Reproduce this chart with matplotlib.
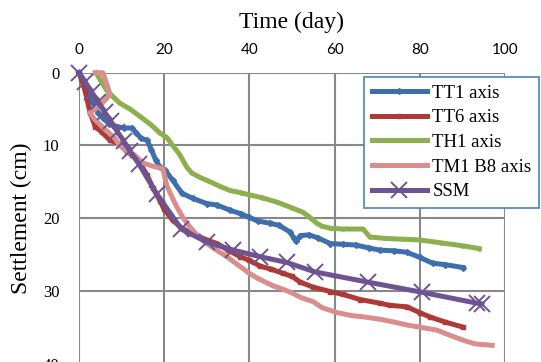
import matplotlib
matplotlib.use('Agg')
import matplotlib.pyplot as plt

# settlement records (day, cm)
tt1_day = [0, 1, 2, 3.3, 4.5, 5.6, 7, 8.9, 10.5, 12.4, 13.5, 14.5, 16, 17, 18, 19, 20.2, 22, 24.2,
           26.8, 30, 32.4, 35.4, 38, 40, 42, 44.8, 47, 49.5, 50.5, 51, 52, 54, 56, 59, 62, 65, 68,
           70.6, 74, 77, 80, 83, 86, 90.2]
tt1_cm = [0, 1, 2.5, 4.2, 5.5, 6.2, 7, 7.4, 7.6, 7.6, 8.3, 9, 9.3, 10.6, 12, 13, 13.4, 14.8, 16.6,
          17.3, 18, 18.2, 18.9, 19.4, 19.9, 20.4, 20.7, 21, 21.9, 22.8, 23.2, 22.4, 22.3, 22.7, 23.5,
          23.6, 23.7, 24.1, 24.4, 24.5, 24.7, 25.4, 26.2, 26.4, 26.8]

tt6_day = [0, 0.5, 1.4, 2.6, 3.8, 5.4, 7.3, 9.6, 11.3, 12.5, 14.3, 16, 17.4, 19, 20, 22, 24, 26, 28,
           30, 32.4, 35, 37.8, 40, 42.5, 45, 47.9, 50, 51.9, 55, 59, 62, 66, 70.6, 73, 77, 80, 82.4,
           86, 90.2]
tt6_cm = [0, 0.8, 2.4, 5.5, 7.4, 8.2, 9.3, 9.8, 10.9, 11.3, 12.4, 14.1, 15.9, 17.6, 18.8, 20.3, 21.3,
          22, 22.5, 23, 23.5, 24.4, 25.3, 25.8, 26.6, 27, 27.6, 28, 28.8, 29.5, 30.1, 30.5, 31.2, 31.7,
          32, 32.2, 33, 33.6, 34.3, 35]

th1_day = [4, 5, 6.5, 8, 9.6, 12, 14.3, 17, 19, 20.6, 22, 23.7, 25.3, 26.5, 28.4, 30, 33, 35.4, 38,
           40, 43, 46.5, 50, 52.6, 54, 55.8, 57, 59, 62, 66.7, 68.3, 72, 76, 80, 85, 90, 94]
th1_cm = [0, 1, 2.4, 3.3, 4.2, 5, 6, 7.2, 8.3, 8.9, 10, 11.3, 13, 13.8, 14.4, 14.8, 15.6, 16.2, 16.5,
          16.8, 17.2, 17.8, 18.6, 19.2, 19.8, 20.7, 21.1, 21.4, 21.5, 21.5, 22.6, 22.8, 22.9, 23,
          23.4, 23.8, 24.2]

tm1_day = [3.8, 5.6, 6.6, 7.3, 5, 2.5, 3.8, 6.5, 8.4, 9.5, 11.3, 13, 15, 17, 19.7, 20.6, 22, 23, 24.4,
           26, 28, 30, 32, 34.7, 37, 40, 42, 45.5, 48, 50, 52, 55, 57, 60.6, 64, 67, 70.6, 74, 77, 80,
           84, 87, 90.2, 93, 97]
tm1_cm = [0, 0, 1.7, 3, 4.5, 5.5, 6.5, 8, 9, 10, 10.8, 11.3, 12.4, 12.8, 13.2, 15.5, 17.3, 18.5, 19.9,
          21.2, 22.5, 23.5, 24.3, 25.3, 26.3, 27.6, 28.3, 29.3, 29.8, 30.3, 30.9, 31.5, 32.3, 33,
          33.4, 33.6, 33.9, 34.3, 34.7, 35, 35.4, 36.1, 36.8, 37.3, 37.5]

ssm_day = [0, 1.5, 3, 4.5, 6, 7.5, 9, 10.5, 12, 14, 18.3, 24, 30, 36.2, 42.5, 48.8, 55.4, 67.8,
           80.5, 93.4, 94.6]
ssm_cm = [0, 1.3, 2.7, 4, 5.4, 6.7, 8.1, 9.4, 10.8, 12.5, 16.7, 21.5, 23.3, 24.4, 25.3, 26.1, 27.4,
          28.8, 30.2, 31.7, 31.8]

fig = plt.figure(figsize=(5.41, 3.62), dpi=100)
ax = fig.add_axes([0.146, -0.0042, 0.7874, 0.8033])

lw = 3.6
ax.plot(tt1_day, tt1_cm, color='#3D6FAD', lw=lw, marker='D', ms=3, label='TT1 axis', clip_on=False)
ax.plot(tt6_day, tt6_cm, color='#AE3A37', lw=lw, marker='s', ms=3, label='TT6 axis', clip_on=False)
ax.plot(th1_day, th1_cm, color='#8DB04E', lw=lw, marker='^', ms=2, label='TH1 axis', clip_on=False)
ax.plot(tm1_day, tm1_cm, color='#D88E8C', lw=lw, label='TM1 B8 axis', clip_on=False)
ax.plot(ssm_day, ssm_cm, color='#6E5393', lw=lw, marker='x', ms=12, mew=1.4, label='SSM',
        clip_on=False)

ax.set_xlim(0, 100)
ax.set_ylim(40, 0)
ax.set_xticks(range(0, 101, 20))
ax.set_yticks(range(0, 41, 10))
ax.xaxis.tick_top()
ax.xaxis.set_label_position('top')
ax.tick_params(length=0)
ax.tick_params(axis='x', labelsize=11, labelfontfamily='Lato', pad=11)
ax.tick_params(axis='y', labelsize=12, labelfontfamily='Liberation Serif', pad=14)
ax.grid(True, color='#888888', lw=1.5)
ax.set_axisbelow(True)
for s in ax.spines.values():
    s.set_visible(False)

ax.set_xlabel('Time (day)', fontsize=17, family='Liberation Serif', labelpad=11)
ax.set_ylabel('Settlement (cm)', fontsize=17, family='Liberation Serif', labelpad=8)

leg = fig.legend(loc='upper left', bbox_to_anchor=(364 / 541, 1 - 77 / 362), borderaxespad=0,
                 prop={'family': 'Liberation Serif', 'size': 13.5}, handlelength=2.95,
                 handletextpad=0.3, labelspacing=0.4, borderpad=0.4, fancybox=False, framealpha=1)
leg.get_frame().set_edgecolor('#4F81BD')
leg.get_frame().set_linewidth(1.2)

fig.savefig('out.png', dpi=100)
